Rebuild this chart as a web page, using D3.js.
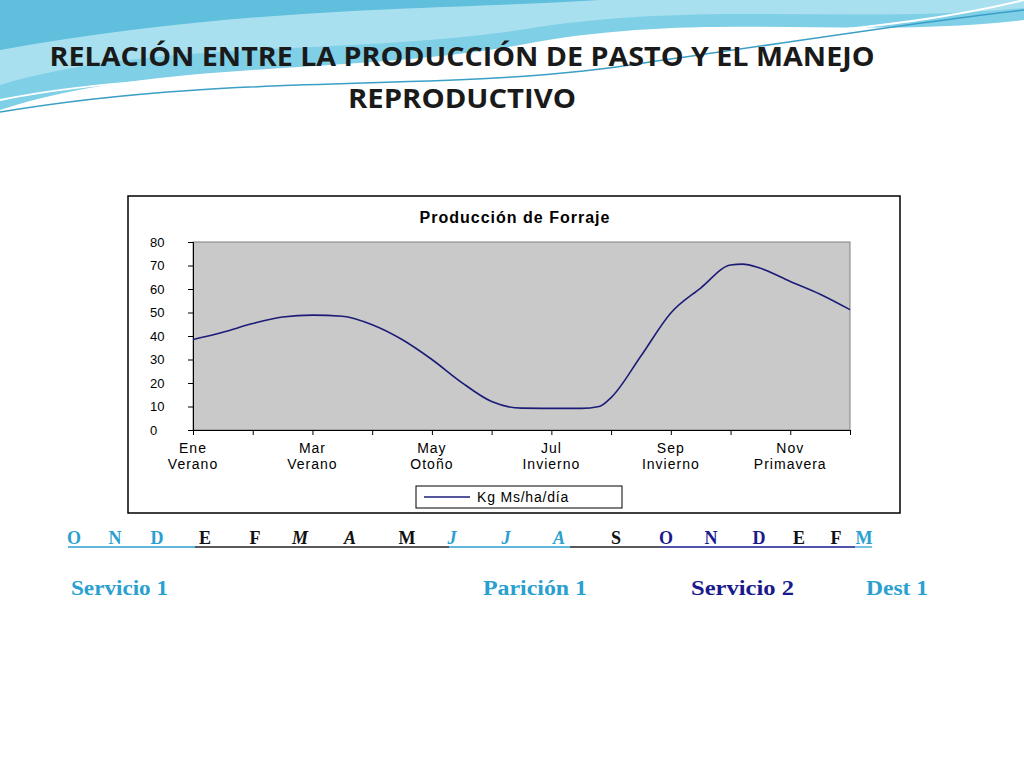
<!DOCTYPE html>
<html><head><meta charset="utf-8">
<script src="https://cdn.jsdelivr.net/npm/d3@7/dist/d3.min.js"></script>
<style>body{margin:0;background:#fff}svg{display:block}</style>
</head><body><svg id="c" width="1024" height="768"></svg>
<script>
const monthPos = [0,0.5,1,1.5,2,2.5,3,3.5,4,4.5,5,5.5,6,6.5,6.8,7,7.5,8,8.5,9,9.2,9.5,10,10.5,11];
const forraje  = [38.5,41.6,45.3,48.1,48.9,48.4,44.8,38.5,30,20.2,12.1,9.3,9.2,9.2,10,13.8,31.5,49.8,60.4,70.2,70.6,68.8,63.2,57.8,51.2];
const tickLabels = [["Ene","Verano"],["Mar","Verano"],["May","Otoño"],["Jul","Invierno"],["Sep","Invierno"],["Nov","Primavera"]];
const yTicks = [0,10,20,30,40,50,60,70,80];
const months = ["O","N","D","E","F","M","A","M","J","J","A","S","O","N","D","E","F","M"];
const monthX = [74,115,157,205,255,300,350,407,452,506,559,616,666,711,759,799,836,864];
const monthItalic = [0,0,0,0,0,1,1,0,1,1,1,0,0,0,0,0,0,0];
const monthColor = ["#2aa0d0","#2aa0d0","#2aa0d0","#111","#111","#111","#111","#111","#2aa0d0","#2aa0d0","#2aa0d0","#111","#1a1a8c","#1a1a8c","#1a1a8c","#111","#111","#2aa0d0"];
const underlines = [[68,195,"#2aa0d0"],[195,449,"#222"],[449,570,"#2aa0d0"],[570,661,"#222"],[661,855,"#1a1a8c"],[855,872,"#2aa0d0"]];
const events = [["Servicio 1",71,97,"#2aa0d0"],["Parición 1",483,104,"#2aa0d0"],["Servicio 2",691,103,"#1a1a8c"],["Dest 1",866,62,"#2aa0d0"]];

const svg = d3.select("#c");
const g0 = svg.append("g");
g0.append("path").attr("d","M0,0 H1024 V20 C850,40 700,10 520,45 C350,75 150,60 0,110 Z").attr("fill","#7fcfe6");
g0.append("path").attr("d","M0,0 H1024 V8 C850,25 700,0 520,30 C350,55 150,40 0,85 Z").attr("fill","#a8e0ef");
g0.append("path").attr("d","M0,0 H600 C450,10 250,5 0,50 Z").attr("fill","#5fbfdc");
g0.append("path").attr("d","M0,100 C200,60 400,90 620,55 C800,30 900,30 1024,0").attr("fill","none").attr("stroke","#fff").attr("stroke-width",2);
g0.append("path").attr("d","M0,112 C250,70 450,95 650,62 C820,38 930,20 1024,10").attr("fill","none").attr("stroke","#3a9fc6").attr("stroke-width",1.5);

[["RELACIÓN ENTRE LA PRODUCCIÓN DE PASTO Y EL MANEJO",66,825],["REPRODUCTIVO",108,228]].forEach(t=>
 svg.append("text").attr("x",462).attr("y",t[1]).attr("text-anchor","middle")
  .attr("font-family","'Open Sans',Arial").attr("font-weight","bold").attr("font-size",26).attr("fill","#1a1a1a")
  .attr("textLength",t[2]).attr("lengthAdjust","spacingAndGlyphs").text(t[0]));

svg.append("rect").attr("x",128).attr("y",196).attr("width",772).attr("height",317).attr("fill","#fff").attr("stroke","#000").attr("stroke-width",1.5);
svg.append("text").attr("x",515).attr("y",223).attr("text-anchor","middle").attr("font-family","Arial,'Liberation Sans'").attr("font-weight","bold").attr("font-size",16).attr("letter-spacing",1).text("Producción de Forraje");

const x = d3.scaleLinear().domain([0,11]).range([193,850]);
const y = d3.scaleLinear().domain([0,80]).range([430,242]);
svg.append("rect").attr("x",193).attr("y",242).attr("width",657).attr("height",188).attr("fill","#c9c9c9").attr("stroke","#808080");
const ya = svg.append("g").attr("transform","translate(193,0)").call(d3.axisLeft(y).tickValues(yTicks).tickSize(5).tickPadding(14));
const xa = svg.append("g").attr("transform","translate(0,430)").call(d3.axisBottom(x).tickValues(d3.range(0,12)).tickSize(5).tickFormat(""));
[ya,xa].forEach(a=>{a.select(".domain").attr("stroke","#000");a.selectAll("line").attr("stroke","#000");});
ya.selectAll("text").attr("font-family","Arial,'Liberation Sans'").attr("font-size",13).attr("fill","#000").attr("text-anchor","start").attr("x",-43);
tickLabels.forEach((t,i)=>{
  const tx = svg.append("text").attr("x",x(i*2)).attr("y",453).attr("text-anchor","middle").attr("font-family","Arial,'Liberation Sans'").attr("font-size",14).attr("letter-spacing",1);
  tx.append("tspan").attr("x",x(i*2)).text(t[0]);
  tx.append("tspan").attr("x",x(i*2)).attr("dy",16).text(t[1]);
});
const data = monthPos.map((m,i)=>[m,forraje[i]]);
svg.append("path").datum(data).attr("fill","none").attr("stroke","#1c1c78").attr("stroke-width",1.6)
  .attr("d",d3.line().x(d=>x(d[0])).y(d=>y(d[1])).curve(d3.curveMonotoneX));
svg.append("rect").attr("x",416).attr("y",486).attr("width",206).attr("height",22).attr("fill","#fff").attr("stroke","#000");
svg.append("line").attr("x1",424).attr("x2",470).attr("y1",497).attr("y2",497).attr("stroke","#1c1c78").attr("stroke-width",1.6);
svg.append("text").attr("x",477).attr("y",502).attr("font-family","Arial,'Liberation Sans'").attr("font-size",14).attr("letter-spacing",0.8).text("Kg Ms/ha/día");

const mg = svg.append("g").attr("font-family","'Liberation Serif','DejaVu Serif',serif").attr("font-size",18).attr("font-weight","bold");
months.forEach((m,i)=>{
  mg.append("text").attr("x",monthX[i]).attr("y",544).attr("text-anchor","middle").attr("fill",monthColor[i])
    .attr("font-style",monthItalic[i]?"italic":"normal").text(m);
});
underlines.forEach(u=>svg.append("line").attr("x1",u[0]).attr("x2",u[1]).attr("y1",547).attr("y2",547).attr("stroke",u[2]).attr("stroke-width",1.3));
events.forEach(e=>svg.append("text").attr("x",e[1]).attr("y",595).attr("fill",e[3]).attr("font-family","'Liberation Serif','DejaVu Serif',serif").attr("font-size",20).attr("font-weight","bold")
  .attr("textLength",e[2]).attr("lengthAdjust","spacingAndGlyphs").text(e[0]));
</script></body></html>
